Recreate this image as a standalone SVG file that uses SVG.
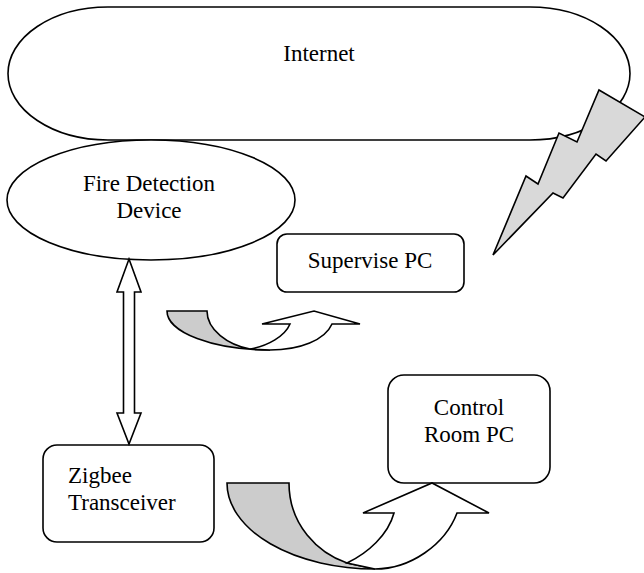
<svg xmlns="http://www.w3.org/2000/svg" width="644" height="573" viewBox="0 0 644 573">
<style>
.s{stroke:#000;stroke-width:1.6;stroke-linejoin:miter}
.w{fill:#fff}
.g{fill:#cccccc}
.b{fill:#d9d9d9}
text{font-family:"Liberation Serif","Times New Roman",serif;font-size:23px;fill:#000}
.c{text-anchor:middle}
</style>
<rect width="644" height="573" fill="#fff"/>
<g id="internet">
<rect class="s w" x="8" y="7" width="622" height="133" rx="100" ry="66.5"/>
<text class="c" x="319" y="61">Internet</text>
</g>
<g id="fire-detection-device">
<ellipse class="s w" cx="151" cy="200" rx="144" ry="60"/>
<text class="c" x="149" y="191">Fire Detection</text>
<text class="c" x="149" y="218">Device</text>
</g>
<g id="wireless-link">
<polygon class="s b" points="599,90 645,117 606,161 596,154 563,198 553,193 493,255 526,176 538,184 559,133 577,142"/>
</g>
<g id="supervise-pc">
<rect class="s w" x="277" y="234" width="187" height="58" rx="10"/>
<text class="c" x="370" y="268">Supervise PC</text>
</g>
<g id="control-room-pc">
<rect class="s w" x="388" y="375" width="162" height="108" rx="16"/>
<text class="c" x="469" y="415">Control</text>
<text class="c" x="469" y="442">Room PC</text>
</g>
<g id="zigbee-transceiver">
<rect class="s w" x="43" y="445" width="171" height="97" rx="14"/>
<text x="68" y="483">Zigbee</text>
<text x="68" y="510">Transceiver</text>
</g>
<g id="connectors">
<polygon class="s w" points="129,259 141,292 134.5,292 134.5,413 141,413 129,444 117,413 123.5,413 123.5,292 117,292"/>
<path class="s g" d="M167,311 A103,39 0 0 0 270,350 L250,349 C228,345 207,330 207,311 Z"/>
<path class="s w" d="M250,349 C268,346 285,336 290,324 L262,324 L314,311 L360,324 L332,324 C325,340 300,350 270,350 Z"/>
<path class="s g" d="M227,483 A148,86 0 0 0 375,569 L347,563 C318,553 289,525 289,483 Z"/>
<path class="s w" d="M347,563 C368,553 388,535 394,513 L363,513 L432,483 L489,513 L457,513 C445,545 410,569 375,569 Z"/>
</g>
</svg>
